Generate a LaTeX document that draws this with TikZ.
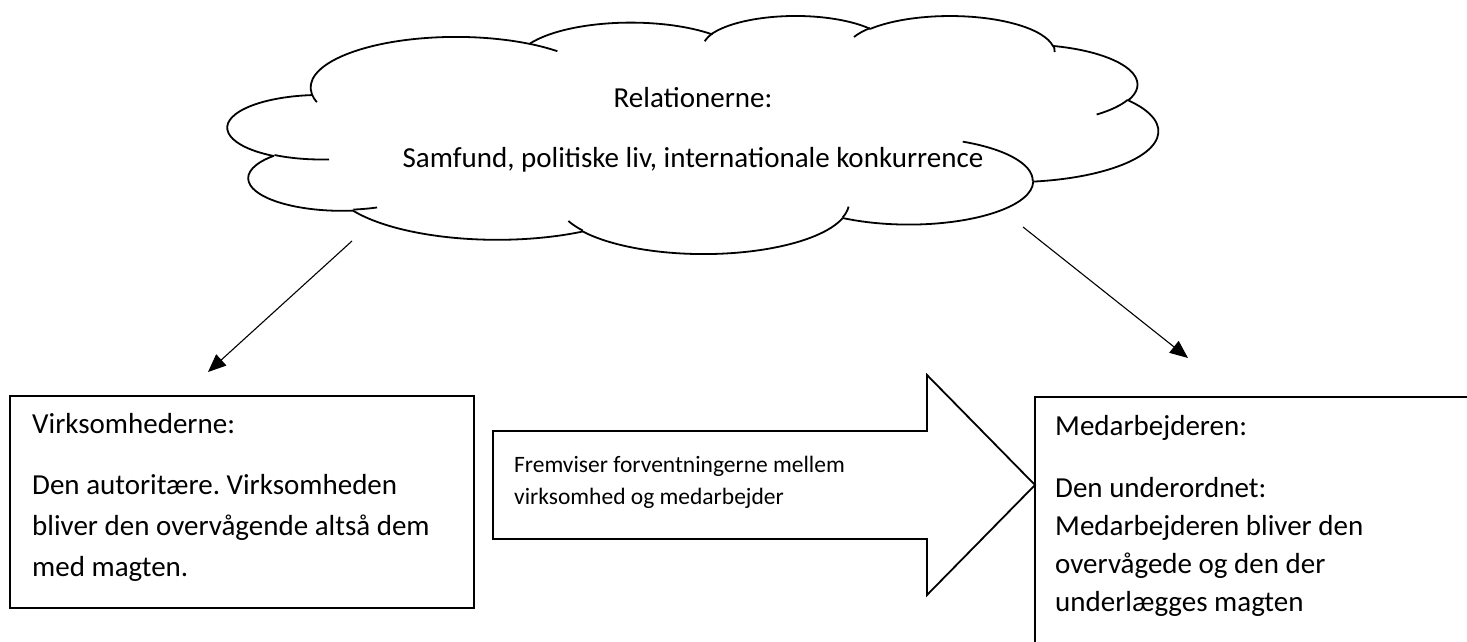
\documentclass[tikz,border=0pt]{standalone}
\usepackage{fontspec}
\setmainfont{Carlito}
\usetikzlibrary{arrows.meta}

% elliptical arc given by radii and a start/sweep angle measured as true
% (not parametric) angles, as in office shape geometry
\newcommand\carc[4]{arc[start angle={pa(#1,#2,#3)}, end angle={pa(#1,#2,(#3)+(#4))}, x radius=#1, y radius=#2]}

\tikzset{
  outline/.style={draw=black, line width=1.8pt},
  cloudline/.style={draw=black, line width=1.8pt, line join=round},
  conn/.style={draw=black, line width=1.1pt, -{Triangle[length=18pt,width=15pt]}},
  bigtext/.style={font=\fontsize{29pt}{34pt}\selectfont, inner sep=0pt, anchor=base west},
  midtext/.style={font=\fontsize{29pt}{34pt}\selectfont, inner sep=0pt, anchor=base},
  smalltext/.style={font=\fontsize{23.5pt}{28pt}\selectfont, inner sep=0pt, anchor=base west},
}

\begin{document}
\frenchspacing
\begin{tikzpicture}[x=1pt, y=-1pt,
  declare function={pa(\r,\s,\a)=\a+mod(atan2(\r*sin(\a),\s*cos(\a))-(\a)+540,360)-180;}]

\fill[white] (0,0) rectangle (1467,642);
\useasboundingbox (0,0) rectangle (1467,642);

% ---- cloud (path in a 432 x 432 frame, stretched to its box) ----
\begin{scope}[shift={(228,15.2)}, x=2.1528pt, y=-0.5509pt]
  \draw[cloudline, fill=white] (39.00,143.70)
    \carc{67.53}{91.90}{-190.4875}{123.7805}
    \carc{53.33}{72.67}{-144.1024}{89.9452}
    \carc{43.65}{59.45}{-145.8079}{99.7230}
    \carc{48.57}{65.95}{-130.9861}{117.2417}
    \carc{53.33}{72.73}{-78.7089}{109.0269}
    \carc{67.75}{92.20}{-46.2673}{130.2690}
    \carc{57.85}{78.67}{0.6250}{114.0333}
    \carc{67.52}{92.15}{22.4516}{115.1726}
    \carc{77.20}{105.43}{66.2426}{75.7110}
    \carc{43.60}{59.18}{-274.9421}{146.7356}
    \carc{43.45}{59.45}{-246.8285}{152.5189}
    -- cycle;
  \draw[cloudline]
    (46.93,261.77) \carc{43.45}{59.45}{86.7420}{26.4295}
    (69.28,348.99) \carc{43.60}{59.18}{73.6105}{11.4475}
    (164.78,390.90) \carc{67.52}{92.15}{137.6242}{14.0811}
    (288.27,347.51) \carc{67.52}{92.15}{6.4533}{15.9984}
    (341.29,229.54) \carc{57.85}{78.67}{-70.2924}{70.9174}
    (417.98,153.54) \carc{53.33}{72.73}{30.3180}{27.7515}
    (383.24,54.26) \carc{48.57}{65.95}{-13.7443}{14.8589}
    (290.78,39.52) \carc{48.57}{65.95}{-149.1815}{18.1876}
    (221.41,47.20) \carc{43.65}{59.45}{-163.4943}{17.6892}
    (140.00,51.92) \carc{67.53}{91.90}{-66.7070}{12.3194}
    (41.27,157.89) \carc{67.53}{91.90}{157.6544}{11.8582};
\end{scope}

\node[midtext] (rel) at (693,107) {Relationerne:};
\node[midtext] (relx) at (693,167) {Samfund, politiske liv, internationale konkurrence};

% ---- connectors from the cloud ----
\coordinate (la0) at (352,241);
\coordinate (la1) at (208,372);
\coordinate (ra0) at (1023,227);
\coordinate (ra1) at (1188,358);
\draw[conn] (la0) -- (la1);
\draw[conn] (ra0) -- (ra1);

% ---- left box ----
\node[outline, anchor=north west, minimum width=464pt, minimum height=212pt, inner sep=0pt] (vbox) at (9,395) {};
\node[bigtext] (v1) at (32,433) {Virksomhederne:};
\node[bigtext] (v2) at (32,494) {Den autoritære. Virksomheden};
\node[bigtext] (v3) at (32,535) {bliver den overvågende altså dem};
\node[bigtext] (v4) at (32,576) {med magten.};

% ---- block arrow ----
\draw[outline, fill=white, line join=miter]
  (493,431) -- (927,431) -- (927,375) -- (1035,485) -- (927,595) -- (927,539) -- (493,539) -- cycle;
\node[smalltext] (f1) at (514,472) {Fremviser forventningerne mellem};
\node[smalltext] (f2) at (514,504) {virksomhed og medarbejder};

% ---- right box (runs past the page edge) ----
\begin{scope}
  \clip (0,0) rectangle (1467,642);
  \node[outline, anchor=north west, minimum width=500pt, minimum height=320pt, inner sep=0pt] (mbox) at (1034,396) {};
\end{scope}
\node[bigtext] (m1) at (1055,435) {Medarbejderen:};
\node[bigtext] (m2) at (1055,497) {Den underordnet:};
\node[bigtext] (m3) at (1055,535) {Medarbejderen bliver den};
\node[bigtext] (m4) at (1055,573) {overvågede og den der};
\node[bigtext] (m5) at (1055,611) {underlægges magten};

\end{tikzpicture}
\end{document}
